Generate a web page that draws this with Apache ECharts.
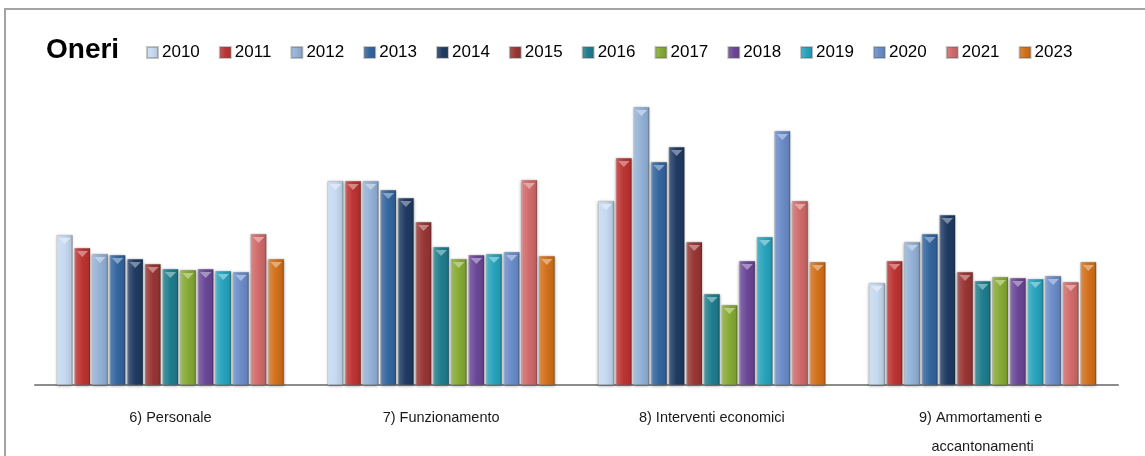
<!DOCTYPE html>
<html><head><meta charset="utf-8">
<script src="https://cdn.jsdelivr.net/npm/echarts@6/dist/echarts.min.js"></script>
<style>html,body{margin:0;padding:0;background:#fff}#c{width:1145px;height:456px}</style>
</head><body><div id="c"></div>
<script>
// ---- data ----
const categories = ['6) Personale', '7) Funzionamento', '8) Interventi economici', '9) Ammortamenti e accantonamenti'];
const years = ['2010','2011','2012','2013','2014','2015','2016','2017','2018','2019','2020','2021','2023'];
const v2010 = [150, 204, 184, 102];
const v2011 = [137, 204, 227, 124];
const v2012 = [131, 204, 278, 143];
const v2013 = [130, 195, 223, 151];
const v2014 = [126, 187, 238, 170];
const v2015 = [121, 163, 143, 113];
const v2016 = [116, 138, 91, 104];
const v2017 = [115, 126, 80, 108];
const v2018 = [116, 130, 124, 107];
const v2019 = [114, 131, 148, 106];
const v2020 = [113, 133, 254, 109];
const v2021 = [151, 205, 184, 103];
const v2023 = [126, 129, 123, 123];
const values = [v2010, v2011, v2012, v2013, v2014, v2015, v2016, v2017, v2018, v2019, v2020, v2021, v2023];

// ---- styles ----
const baseColors = ['#C5D9F1','#BC3432','#93B1D6','#34659E','#1F3B62','#983634','#1F7D8E','#86AA34','#6A4797','#27A3BC','#6A8CC9','#D06A6A','#D2701A'];

function mix(hex, target, t) {
  const a = parseInt(hex.slice(1), 16), b = parseInt(target.slice(1), 16);
  const ar = a >> 16, ag = (a >> 8) & 255, ab = a & 255;
  const br = b >> 16, bg = (b >> 8) & 255, bb = b & 255;
  const r = Math.round(ar + (br - ar) * t), g = Math.round(ag + (bg - ag) * t), bl = Math.round(ab + (bb - ab) * t);
  return 'rgb(' + r + ',' + g + ',' + bl + ')';
}
function barGrad(c) {
  return new echarts.graphic.LinearGradient(0, 0, 1, 0, [
    { offset: 0, color: mix(c, '#ffffff', 0.45) },
    { offset: 0.12, color: mix(c, '#ffffff', 0.15) },
    { offset: 0.5, color: c },
    { offset: 0.88, color: mix(c, '#000000', 0.08) },
    { offset: 1, color: mix(c, '#000000', 0.35) }
  ]);
}

const GAP = '10%', CGAP = '16%';
const series = [];
years.forEach((y, i) => {
  series.push({
    name: y, type: 'bar', data: values[i],
    barGap: GAP, barCategoryGap: CGAP,
    itemStyle: {
      color: barGrad(baseColors[i]),
      borderColor: 'rgba(90,90,90,0.35)', borderWidth: 0.5,
      shadowColor: 'rgba(0,0,0,0.35)', shadowBlur: 3, shadowOffsetX: 0, shadowOffsetY: 1
    },
    silent: true, z: 2
  });
});
years.forEach((y, i) => {
  series.push({
    name: y, type: 'pictorialBar', data: values[i],
    barGap: GAP, barCategoryGap: CGAP,
    symbol: 'triangle', symbolRotate: 180, symbolPosition: 'end',
    symbolSize: ['72%', 6], symbolOffset: [0, '50%'],
    itemStyle: { color: mix(baseColors[i], '#ffffff', 0.4) },
    silent: true, z: 3
  });
});

const chart = echarts.init(document.getElementById('c'));
chart.setOption({
  animation: false,
  backgroundColor: '#ffffff',
  title: {
    text: 'Oneri', left: 46, top: 36, padding: 0,
    textStyle: { fontFamily: 'Liberation Sans, Arial, sans-serif', fontSize: 28, fontWeight: 'bold', color: '#000' }
  },
  legend: {
    data: years, left: 146, top: 44, padding: 0,
    itemWidth: 11, itemHeight: 11, itemGap: 19, icon: 'rect',
    textStyle: { fontFamily: 'Liberation Sans, Arial, sans-serif', fontSize: 17, color: '#000', padding: [0, 0, 0, -1] }
  },
  grid: { left: 35, right: 27, top: 85, bottom: 71, containLabel: false, outerBoundsMode: 'none' },
  xAxis: {
    type: 'category', data: categories,
    axisLine: { lineStyle: { color: '#8c8c8c', width: 2 } },
    axisTick: { show: false },
    axisLabel: {
      fontFamily: 'Liberation Sans, Arial, sans-serif', fontSize: 14.5, color: '#1a1a1a',
      margin: 18, lineHeight: 29, width: 165, overflow: 'break', interval: 0
    }
  },
  yAxis: { type: 'value', min: 0, max: 300, show: false, splitLine: { show: false } },
  graphic: [{
    type: 'rect', shape: { x: 5, y: 9, width: 1200, height: 500 },
    style: { fill: 'none', stroke: '#a3a3a3', lineWidth: 2 }, silent: true, z: 0
  }],
  series: series
});
</script></body></html>
